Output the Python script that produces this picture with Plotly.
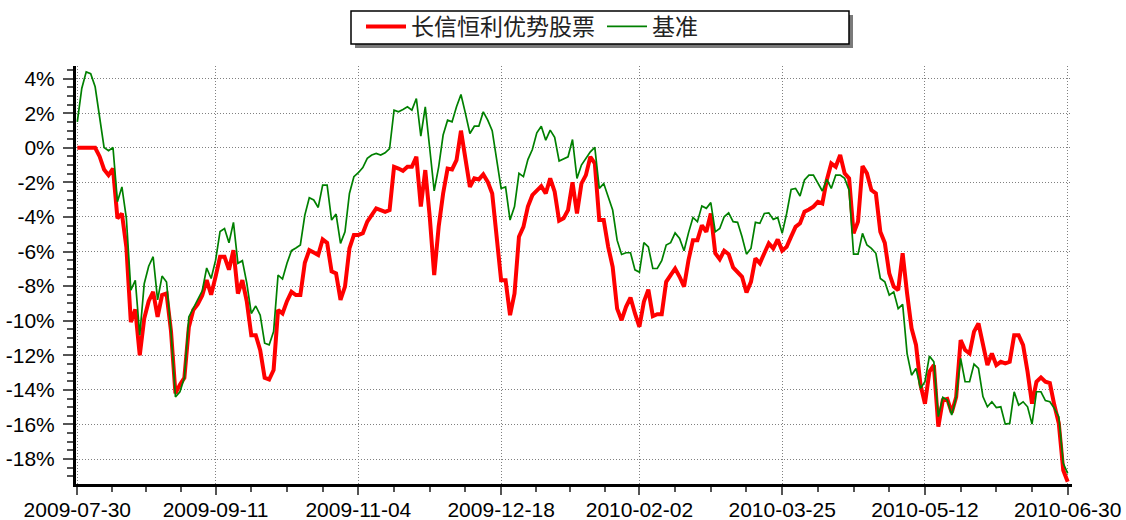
import pandas as pd
import plotly.graph_objects as go

# ---- data -------------------------------------------------------------
start_date = "2009-07-30"
end_date = "2010-06-30"
market_holidays = [
    "2009-10-01", "2009-10-02", "2009-10-05", "2009-10-06", "2009-10-07", "2009-10-08",
    "2010-01-01", "2010-02-15", "2010-02-16", "2010-02-17", "2010-02-18", "2010-02-19",
    "2010-04-05", "2010-05-03", "2010-06-14", "2010-06-15", "2010-06-16",
]
tick_labels = ["2009-07-30", "2009-09-11", "2009-11-04", "2009-12-18",
               "2010-02-02", "2010-03-25", "2010-05-12", "2010-06-30"]
y_ticks = [4, 2, 0, -2, -4, -6, -8, -10, -12, -14, -16, -18]

fund_name = "长信恒利优势股票"
bench_name = "基准"

fund = [
    0, 0, 0, 0, 0,
    -0.5, -1.25, -1.58, -1.2, -4.08,
    -3.8, -5.75, -10.08, -9.35, -12.0,
    -9.88, -8.87, -8.33, -9.78, -8.52,
    -8.43, -10.6, -14.2, -13.7, -13.3,
    -10.38, -9.38, -9.05, -8.55, -7.65,
    -8.5, -7.45, -6.3, -6.3, -7.05,
    -5.92, -8.43, -7.66, -8.9, -10.84,
    -10.84, -11.7, -13.3, -13.4, -12.85,
    -9.38, -9.58, -8.87, -8.33, -8.52,
    -8.52, -6.65, -5.92, -6.05, -6.2,
    -5.3, -5.5, -7.15, -7.26, -8.8,
    -8.03, -5.82, -5.04, -5.04, -4.94,
    -4.27, -3.89, -3.5, -3.6, -3.7,
    -3.6, -1.1, -1.2, -1.33, -1.1,
    -1.1, -0.52, -3.4, -1.29, -3.99,
    -7.36, -4.57, -2.64, -1.2, -1.25,
    -0.72, 0.99, -0.52, -2.26, -1.77,
    -1.83, -1.54, -1.97, -2.64, -5.14,
    -7.66, -7.66, -9.68, -8.43, -5.14,
    -4.57, -3.4, -2.74, -2.45, -2.22,
    -2.64, -1.77, -2.54, -4.22, -4.08,
    -3.6, -2.0, -3.8, -2.07, -1.58,
    -0.52, -0.9, -4.18, -4.18, -5.73,
    -6.88, -9.3, -9.97, -9.2, -8.66,
    -9.58, -10.35, -8.9, -8.2, -9.74,
    -9.62, -9.62, -7.75, -7.36, -6.98,
    -7.46, -8.03, -6.5, -5.34, -5.34,
    -4.48, -4.86, -3.8, -6.1, -6.45,
    -5.95, -6.15, -6.92, -7.23, -7.46,
    -8.37, -7.75, -6.4, -6.68, -6.1,
    -5.53, -5.82, -5.3, -5.95, -5.73,
    -5.14, -4.57, -4.37, -3.7, -3.57,
    -3.4, -3.12, -3.22, -1.86, -0.9,
    -1.1, -0.42, -1.48, -1.77, -4.95,
    -4.27, -1.06, -1.48, -2.45, -2.64,
    -4.86, -5.5, -7.26, -8.03, -8.23,
    -6.1, -8.43, -10.44, -11.4, -13.7,
    -14.8, -12.95, -12.57, -16.13, -14.59,
    -14.52, -15.32, -14.41, -11.12, -11.7,
    -11.9, -10.63, -10.16, -11.5, -12.57,
    -11.9, -12.57, -12.38, -12.47, -12.38,
    -10.84, -10.84, -11.41, -12.95, -14.8,
    -13.53, -13.28, -13.53, -13.61, -14.88,
    -15.93, -18.65, -19.31,
]

benchmark = [
    1.5, 3.43, 4.39, 4.29, 3.53,
    1.79, 0.02, -0.17, 0.02, -3.12,
    -2.26, -4.08, -8.23, -7.66, -10.84,
    -7.86, -6.85, -6.3, -8.8, -7.42,
    -7.76, -10.6, -14.41, -14.11, -13.3,
    -9.78, -9.27, -8.77, -8.27, -6.95,
    -7.56, -6.5, -4.84, -4.67, -5.49,
    -4.31, -6.68, -6.53, -7.84, -9.58,
    -9.15, -9.68, -11.3, -11.4, -10.63,
    -7.36, -7.59, -6.68, -5.95, -5.79,
    -5.62, -3.89, -2.89, -3.02, -3.45,
    -2.16, -2.16, -4.18, -3.83, -5.53,
    -4.86, -2.64, -1.67, -1.44, -1.14,
    -0.61, -0.42, -0.33, -0.42, -0.29,
    -0.04, 2.18, 2.08, 2.22, 2.37,
    2.18, 2.85, 0.68, 2.37, -0.04,
    -2.49, -1.1, 0.74, 1.6, 1.5,
    2.37, 3.08, 1.99, 0.83, 1.25,
    1.25, 2.08, 1.6, 0.99, -0.72,
    -2.35, -2.26, -4.18, -3.4, -1.48,
    -1.67, -0.68, -0.1, 0.87, 1.25,
    0.44, 1.02, 0.6, -0.76, -0.64,
    -0.52, 0.48, -1.77, -1.0, -0.61,
    -0.23, 0.02, -2.35, -2.07, -2.83,
    -3.6, -5.34, -6.17, -6.07, -6.07,
    -7.06, -7.2, -5.49, -5.73, -6.98,
    -6.98, -6.53, -5.62, -5.49, -4.92,
    -5.24, -5.95, -4.92, -4.03, -4.27,
    -3.36, -3.5, -3.17, -4.86, -4.67,
    -3.99, -3.76, -4.27, -4.31, -5.14,
    -6.15, -5.82, -4.31, -4.37, -3.8,
    -3.76, -4.14, -4.03, -4.95, -3.8,
    -2.41, -2.35, -2.79, -1.86, -1.58,
    -1.58, -2.07, -2.5, -1.82, -2.35,
    -1.58, -1.58, -1.77, -2.45, -6.15,
    -6.15, -4.95, -5.62, -5.82, -6.1,
    -7.56, -7.75, -8.52, -8.33, -9.3,
    -9.05, -11.9, -13.15, -12.76, -13.91,
    -13.53, -12.05, -12.38, -15.55, -14.43,
    -14.59, -15.45, -14.43, -12.18, -13.53,
    -13.53, -12.51, -12.76, -14.39, -14.98,
    -14.69, -15.02, -14.98, -15.98, -15.94,
    -14.11, -14.88, -14.69, -14.98, -15.98,
    -14.11, -14.11, -14.62, -14.69, -15.07,
    -15.55, -18.25, -18.83,
]

# ---- trading-day axis -------------------------------------------------
days = pd.bdate_range(start_date, end_date)
days = [d.strftime("%Y-%m-%d") for d in days if d.strftime("%Y-%m-%d") not in market_holidays]
n = min(len(days), len(fund), len(benchmark))
days = days[:n]
xs = list(range(n))
major_vals = [days.index(d) for d in tick_labels if d in days]
minor_vals = []
for a, b in zip(major_vals[:-1], major_vals[1:]):
    minor_vals += [a + (b - a) * k / 4 for k in (1, 2, 3)]

# ---- layout geometry (pixels) -----------------------------------------
W, H = 1126, 520
L, R, T, B = 76, 1072, 66, 484


def px_x(p):
    return (p - L) / (R - L)


def px_y(p):
    return (B - p) / (B - T)


fig = go.Figure()
fig.add_trace(go.Scatter(
    x=xs, y=fund[:n], name=fund_name, mode="lines",
    line=dict(color="#ff0000", width=4), customdata=days,
    hovertemplate="%{customdata}<br>%{y:.2f}%<extra>" + fund_name + "</extra>",
))
fig.add_trace(go.Scatter(
    x=xs, y=benchmark[:n], name=bench_name, mode="lines",
    line=dict(color="#008000", width=1.7), customdata=days,
    hovertemplate="%{customdata}<br>%{y:.2f}%<extra>" + bench_name + "</extra>",
))

tick_font = dict(family="Liberation Sans, Arial, sans-serif", size=21, color="#000")
grid_dash = "1px,2px"

fig.update_xaxes(
    range=[(L - 77.3) / 4.4613, (R - 77.3) / 4.4613], automargin=False,
    tickmode="array", tickvals=major_vals, ticktext=[days[v] for v in major_vals],
    ticks="outside", ticklen=8, tickwidth=1.5, tickcolor="#555",
    minor=dict(tickmode="array", tickvals=minor_vals, ticks="outside",
               ticklen=5, tickwidth=1.5, tickcolor="#555", showgrid=False),
    showline=True, linecolor="#000", linewidth=3,
    showgrid=True, gridcolor="#808080", gridwidth=1, griddash=grid_dash,
    zeroline=False, tickfont=tick_font, ticklabelstandoff=-3,
)
fig.update_yaxes(
    range=[(147.8 - B) / 17.29, (147.8 - T) / 17.29], automargin=False,
    tickmode="array", tickvals=y_ticks, ticktext=[f"{v}%" for v in y_ticks],
    ticks="outside", ticklen=10, tickwidth=1.5, tickcolor="#555",
    minor=dict(dtick=0.5, ticks="outside", ticklen=6, tickwidth=1.5,
               tickcolor="#555", showgrid=False),
    showline=True, linecolor="#000", linewidth=3,
    showgrid=True, gridcolor="#808080", gridwidth=1, griddash=grid_dash,
    zeroline=False, tickfont=tick_font, ticklabelstandoff=4,
)

# legend frame with drop shadow
fig.add_shape(type="rect", xref="paper", yref="paper", layer="above",
              x0=px_x(355), x1=px_x(853), y0=px_y(48), y1=px_y(15),
              fillcolor="#7a7a7a", line=dict(width=0))
fig.add_shape(type="rect", xref="paper", yref="paper", layer="above",
              x0=px_x(351), x1=px_x(849), y0=px_y(44), y1=px_y(11),
              fillcolor="#ffffff", line=dict(color="#000", width=1.5))

fig.update_layout(
    width=W, height=H,
    margin=dict(l=L, r=W - R, t=T, b=H - B, autoexpand=False),
    paper_bgcolor="#ffffff", plot_bgcolor="#ffffff",
    showlegend=True,
    legend=dict(
        orientation="h", xref="container", yref="container",
        x=361 / W, y=1 - 5 / H, xanchor="left", yanchor="top",
        bgcolor="rgba(0,0,0,0)", borderwidth=0,
        itemwidth=40, entrywidth=186, entrywidthmode="pixels",
        font=dict(family="Noto Sans CJK SC", size=23, color="#222"),
        traceorder="normal",
    ),
)

# the page is shown edge to edge: drop the browser's default body margin
fig.write_html(
    "out.html",
    config={"displayModeBar": False},
    post_script="document.body.style.margin='0px';document.body.style.overflow='hidden';",
)
